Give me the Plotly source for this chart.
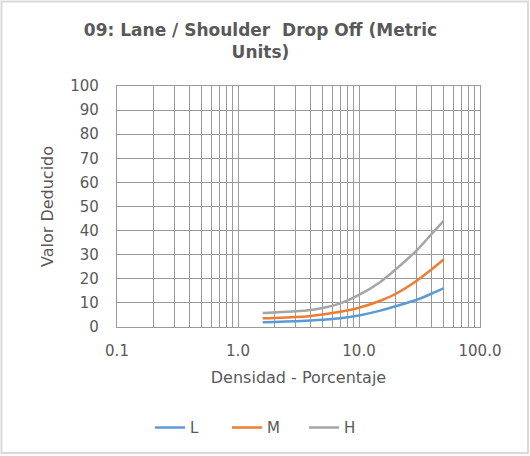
import plotly.graph_objects as go

# Data
densidad = [1.6, 2, 3, 4, 5, 7, 10, 15, 20, 30, 40, 50]
L_vals = [2.0, 2.1, 2.4, 2.7, 3.0, 3.6, 4.8, 6.8, 8.6, 11.3, 13.9, 16.0]
M_vals = [3.6, 3.7, 4.1, 4.6, 5.2, 6.3, 8.0, 10.9, 13.7, 19.2, 24.0, 28.0]
H_vals = [5.8, 6.0, 6.5, 7.1, 7.9, 9.8, 13.3, 18.7, 23.8, 31.8, 38.7, 44.0]

x_tickvals = [0.1, 1, 10, 100]
x_ticktext = ["0.1", "1.0", "10.0", "100.0"]
x_minorvals = [0.2, 0.3, 0.4, 0.5, 0.6, 0.7, 0.8, 0.9,
               2, 3, 4, 5, 6, 7, 8, 9,
               20, 30, 40, 50, 60, 70, 80, 90]
y_tickvals = [0, 10, 20, 30, 40, 50, 60, 70, 80, 90, 100]

series = [("L", L_vals, "#5b9bd5"), ("M", M_vals, "#ed7d31"), ("H", H_vals, "#a5a5a5")]

FONT = "DejaVu Sans"
TXT = "#595959"
GRID = "#9a9a9a"

fig = go.Figure()
for name, vals, col in series:
    fig.add_trace(go.Scatter(x=densidad, y=vals, name=name, mode="lines",
                             line=dict(color=col, width=2.5, shape="spline")))

fig.update_layout(
    width=530, height=456,
    margin=dict(l=117, r=50, t=86, b=129),
    paper_bgcolor="white", plot_bgcolor="white",
    font=dict(family=FONT, color=TXT, size=15),
    title=dict(text="<b>09: Lane / Shoulder  Drop Off (Metric<br>Units)</b>",
               x=0.4915, xanchor="center", y=0.921, yanchor="middle",
               font=dict(family=FONT, size=17, color=TXT)),
    showlegend=True,
    legend=dict(orientation="h", x=0.091, xanchor="left", y=-0.418, yanchor="middle",
                entrywidth=32, entrywidthmode="pixels",
                font=dict(family=FONT, size=15, color=TXT), bgcolor="rgba(0,0,0,0)"),
    xaxis=dict(type="log", range=[-1, 2], tickvals=x_tickvals, ticktext=x_ticktext,
               showgrid=True, gridcolor=GRID, gridwidth=1.3,
               minor=dict(tickvals=x_minorvals, showgrid=True, gridcolor=GRID, gridwidth=1.3),
               showline=True, linecolor=GRID, linewidth=1.3, mirror=True,
               ticks="", ticklabelstandoff=10, zeroline=False,
               title=dict(text="Densidad - Porcentaje", standoff=12,
                          font=dict(family=FONT, size=16, color=TXT))),
    yaxis=dict(range=[0, 100], tickvals=y_tickvals,
               showgrid=True, gridcolor=GRID, gridwidth=1.3,
               showline=True, linecolor=GRID, linewidth=1.3, mirror=True,
               ticks="", ticklabelstandoff=14, zeroline=False,
               title=dict(text="Valor Deducido", standoff=12,
                          font=dict(family=FONT, size=16, color=TXT))),
    shapes=[dict(type="rect", xref="paper", yref="paper",
                 x0=-0.3182, x1=1.1322, y0=-0.5228, y1=1.3506,
                 line=dict(color="#d9d9d9", width=2), fillcolor="rgba(0,0,0,0)", layer="below")],
)

fig.write_html("out.html", config={"displayModeBar": False},
               post_script="document.body.style.margin='0';")
